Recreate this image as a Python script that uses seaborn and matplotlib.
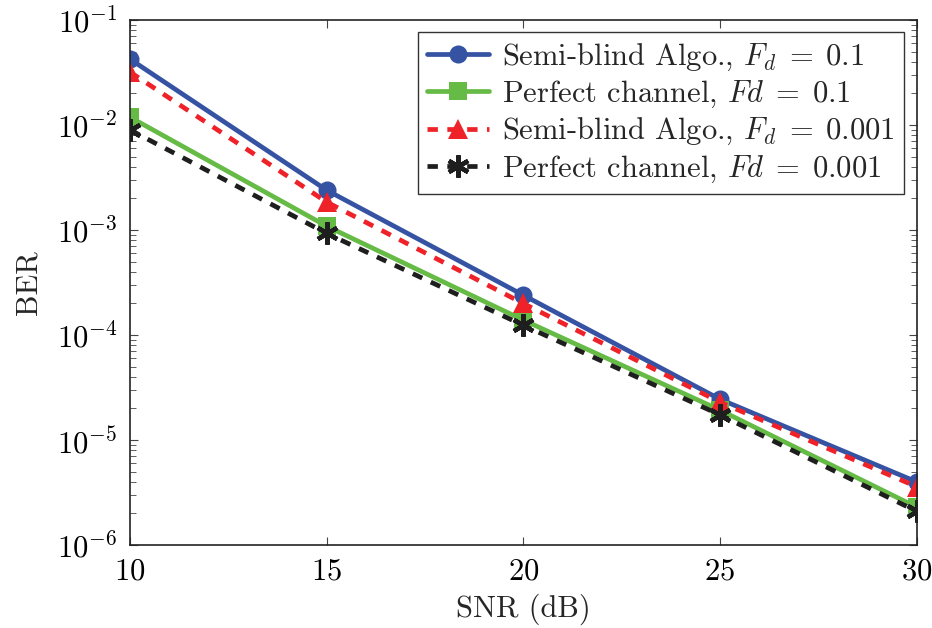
import matplotlib
matplotlib.use("Agg")
import matplotlib.pyplot as plt
import seaborn as sns
import pandas as pd
import numpy as np
from matplotlib.ticker import LogLocator, NullFormatter

snr = [10, 15, 20, 25, 30]
semi_01 = [0.0425, 2.4e-3, 2.4e-4, 2.45e-5, 4.0e-6]
perf_01 = [0.0119, 1.09e-3, 1.39e-4, 1.93e-5, 2.3e-6]
semi_0001 = [0.032, 1.85e-3, 2.0e-4, 2.3e-5, 3.6e-6]
perf_0001 = [0.0090, 9.3e-4, 1.24e-4, 1.74e-5, 2.1e-6]
labels = [r"Semi-blind Algo., $F_d \;=\; 0.1$",
          r"Perfect channel, $Fd \;=\; 0.1$",
          r"Semi-blind Algo., $F_d \;=\; 0.001$",
          r"Perfect channel, $Fd \;=\; 0.001$"]

sns.set_style("ticks")
plt.rcParams["font.family"] = ["cmr10", "DejaVu Serif"]
plt.rcParams["mathtext.fontset"] = "cm"
plt.rcParams["axes.formatter.use_mathtext"] = True

fig = plt.figure(figsize=(9.32, 6.28), dpi=100)
ax = fig.add_axes([0.1395, 0.132, 0.844, 0.836])

series = [semi_01, perf_01, semi_0001, perf_0001]
colors = ["#3552A3", "#66BB46", "#EE2228", "#1E1E1E"]
markers = ["o", "s", "^", (6, 2, 0)]
styles = ["-", "-", (0, (2.2, 2.0)), (0, (2.2, 2.0))]
msizes = [13, 13, 14, 16]
for vals, lab, c, m, ls, ms in zip(series, labels, colors, markers, styles, msizes):
    df = pd.DataFrame({"SNR": snr, "BER": vals})
    mew = 3.2 if isinstance(m, tuple) else 0
    sns.lineplot(data=df, x="SNR", y="BER", ax=ax, color=c, marker=m,
                 markersize=ms, linewidth=3.4, linestyle=ls, label=lab,
                 markeredgewidth=mew, markeredgecolor=c)

ax.set_yscale("log")
ax.set_xlim(10, 30)
ax.set_ylim(1e-6, 1e-1)
ax.set_xticks([10, 15, 20, 25, 30])
ax.yaxis.set_major_locator(LogLocator(base=10, numticks=10))
ax.yaxis.set_minor_locator(LogLocator(base=10, subs=np.arange(2, 10), numticks=20))
ax.yaxis.set_minor_formatter(NullFormatter())
ax.tick_params(which="both", direction="in", top=True, right=True, colors="#444444",
               labelcolor="black", labelsize=22)
ax.tick_params(which="major", length=6, width=0.8, pad=9)
ax.tick_params(which="minor", length=4, width=0.6)
for s in ax.spines.values():
    s.set_linewidth(1.2)
    s.set_color("#222222")
ax.set_xlabel("SNR (dB)", fontsize=22, labelpad=6)
ax.set_ylabel("BER", fontsize=22, labelpad=10)

leg = ax.legend(loc="upper right", fontsize=22, frameon=True, fancybox=False,
                edgecolor="#333333", framealpha=1, handlelength=2.0,
                borderpad=0.3, labelspacing=0.2, handletextpad=0.45,
                borderaxespad=0.4)
leg.get_frame().set_linewidth(1.0)

fig.savefig("out.png", dpi=100)
